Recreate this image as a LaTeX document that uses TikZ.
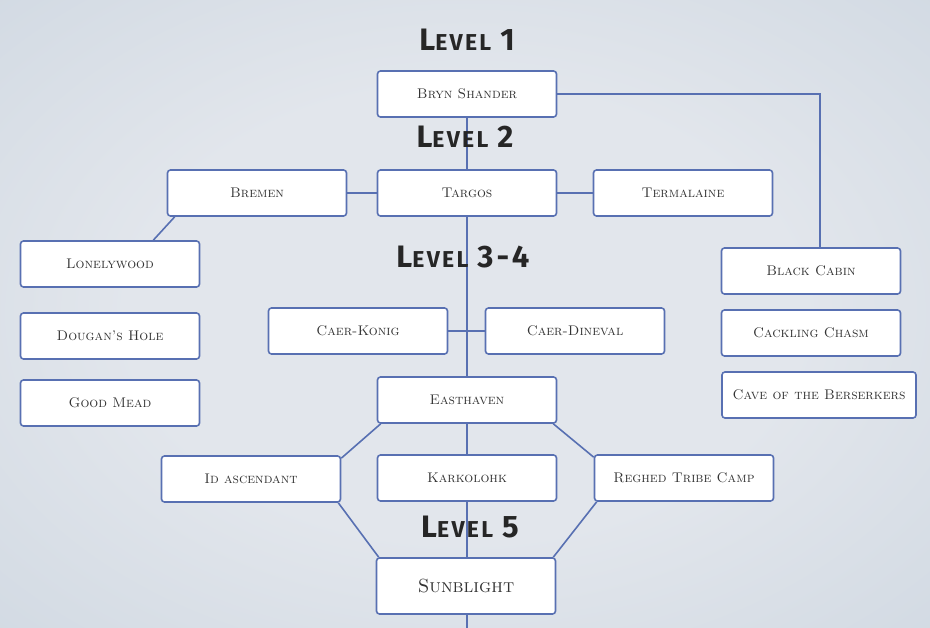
\documentclass[tikz,border=0pt]{standalone}
\usepackage{fontspec}
\newfontfamily\lvlfont[LetterSpace=10]{Fira Sans}
\usetikzlibrary{calc}

\definecolor{edgeblue}{RGB}{88,112,178}
\definecolor{bgin}{RGB}{226,230,236}
\definecolor{bgmid}{RGB}{205,214,224}
\definecolor{bgout}{RGB}{162,180,199}
\pgfdeclareradialshading{snowbg}{\pgfpoint{0bp}{0bp}}{color(0bp)=(bgin); color(18bp)=(bgin); color(42bp)=(bgmid); color(72bp)=(bgout)}

\newcommand\lvl[1]{{\fontsize{31}{31}\selectfont L}{\fontsize{23}{23}\selectfont EVEL}\hspace{9pt}{\fontsize{31}{31}\selectfont #1}}

\begin{document}
\begin{tikzpicture}[x=1pt,y=-1pt]
        \tikzset{place/.style = {draw=edgeblue,line width=1.6pt,fill=white,rounded corners=3pt,minimum width=179pt,minimum height=46pt,font=\scshape\fontsize{14}{16}\selectfont,text=black!80}}
        \tikzset{edge/.style = {draw=edgeblue,line width=1.6pt}}
        \tikzset{level/.style = {font=\lvlfont\bfseries,text=black!85}}
        % background
        \shade[shading=snowbg] (0,0) rectangle (930,628);
        \useasboundingbox (0,0) rectangle (930,628);
        % places
        \node[place] (bryn) at (467,94) {Bryn Shander};
        \node[place] (targos) at (467,193) {Targos};
        \node[place] (bremen) at (257,193) {Bremen};
        \node[place] (termalaine) at (683,193) {Termalaine};
        \node[place] (lonely) at (110,264) {Lonelywood};
        \node[place] (dougan) at (110,336) {Dougan’s Hole};
        \node[place] (goodmead) at (110,403) {Good Mead};
        \node[place] (caerk) at (358,331) {Caer-Konig};
        \node[place] (caerd) at (575,331) {Caer-Dineval};
        \node[place] (easthaven) at (467,400) {Easthaven};
        \node[place] (idasc) at (251,479) {Id ascendant};
        \node[place] (karkolohk) at (467,478) {Karkolohk};
        \node[place] (reghed) at (684,478) {Reghed Tribe Camp};
        \node[place,minimum height=56pt,font=\scshape\fontsize{19}{22}\selectfont] (sunblight) at (466,586) {Sunblight};
        \node[place] (black) at (811,271) {Black Cabin};
        \node[place] (cackling) at (811,333) {Cackling Chasm};
        \node[place,minimum width=194pt] (cave) at (819,395) {Cave of the Berserkers};
        \coordinate (bottom) at (467,628);
        % edges
        \draw[edge] (bryn) -- (targos);
        \draw[edge] (bremen) -- (targos);
        \draw[edge] (targos) -- (termalaine);
        \draw[edge] ([xshift=8pt]bremen.south west) -- ([xshift=-47pt]lonely.north east);
        \draw[edge] (targos) -- (easthaven);
        \draw[edge] (caerk) -- (caerd);
        \draw[edge] (easthaven) -- (karkolohk);
        \draw[edge] (karkolohk.south) -- (karkolohk.south |- sunblight.north);
        \draw[edge] (bottom |- sunblight.south) -- (bottom);
        \draw[edge] ([xshift=4pt]easthaven.south west) -- ([yshift=-3pt]idasc.north east);
        \draw[edge] ([xshift=-4pt]easthaven.south east) -- ([yshift=-3pt]reghed.north west);
        \draw[edge] ([xshift=-3pt]idasc.south east) -- ([xshift=3pt]sunblight.north west);
        \draw[edge] ([xshift=3pt]reghed.south west) -- ([xshift=-3pt]sunblight.north east);
        \draw[edge] (bryn.east) -| ([xshift=9pt]black.north);
        % levels
        \node[level] (lvl1) at (467,40) {\lvl{1}};
        \node[level] (lvl2) at (465,137) {\lvl{2}};
        \node[level] (lvl34) at (463,257) {\lvl{3-4}};
        \node[level] (lvl5) at (470,527) {\lvl{5}};
\end{tikzpicture}
\end{document}
